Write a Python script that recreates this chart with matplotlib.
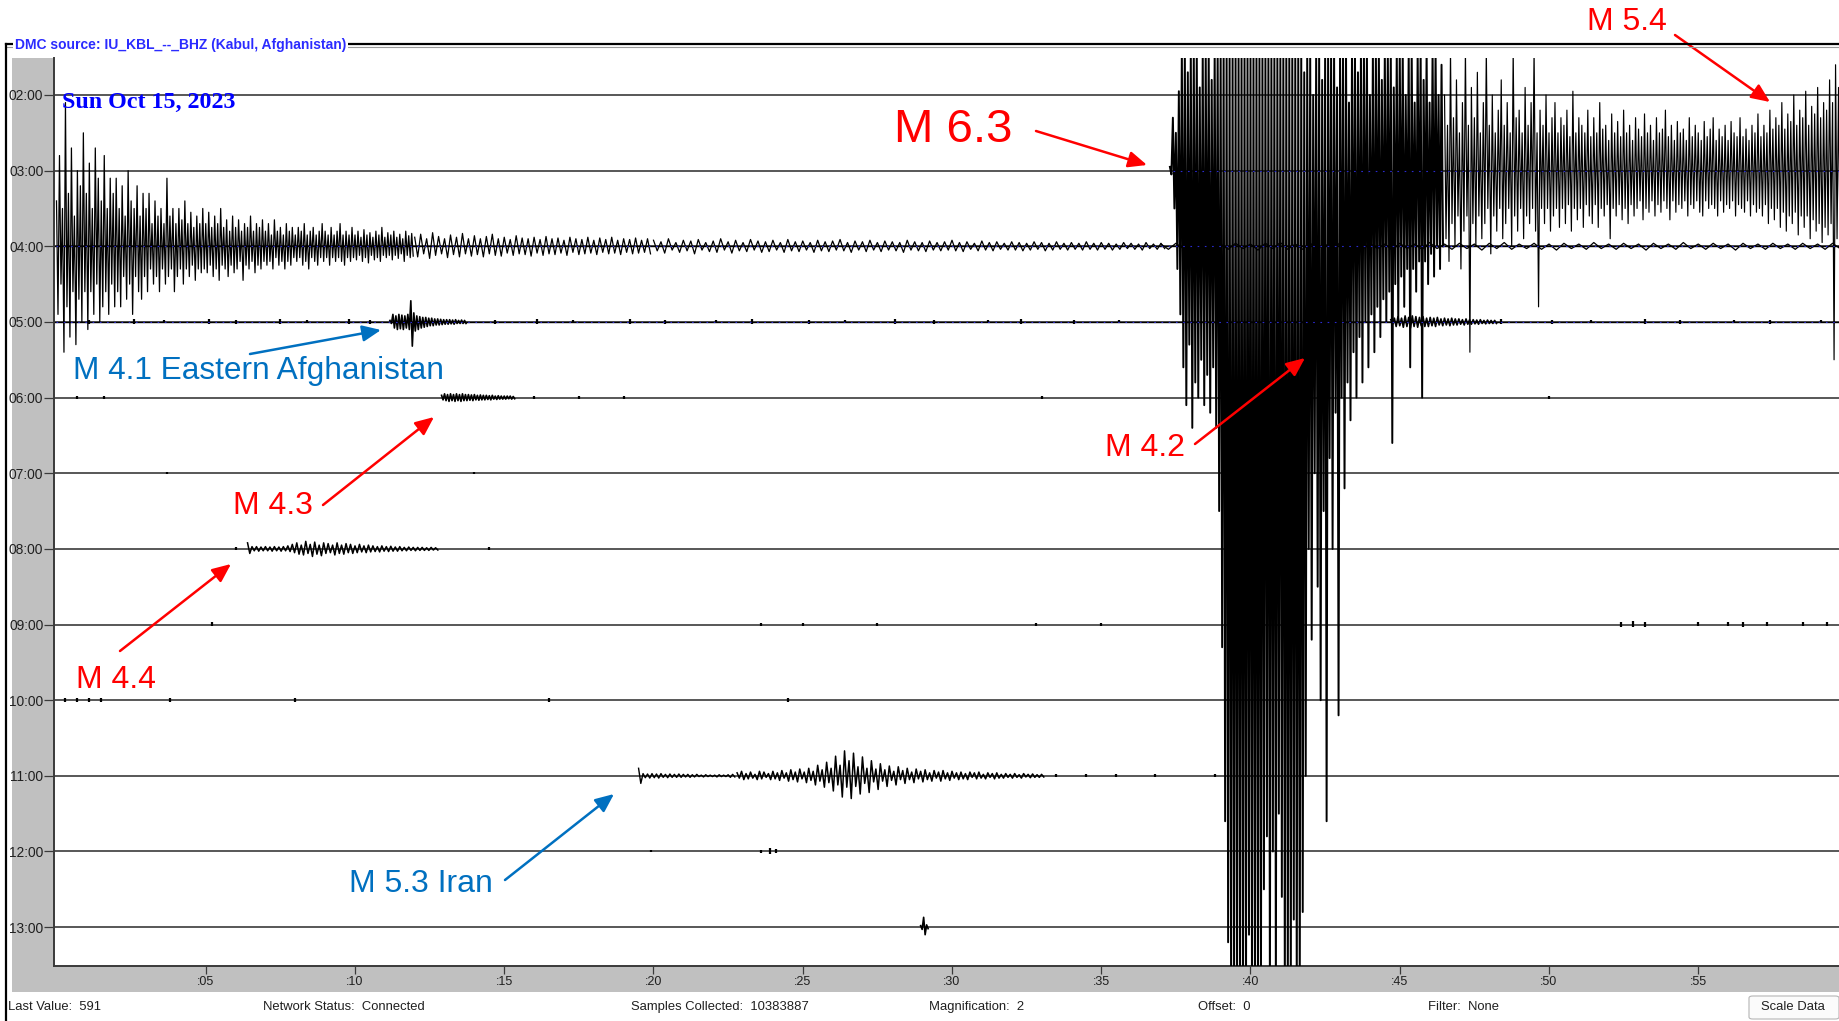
import numpy as np
import matplotlib
matplotlib.use("Agg")
import matplotlib.pyplot as plt
from matplotlib import font_manager as fm
from matplotlib.patches import Rectangle, FancyBboxPatch
from matplotlib.lines import Line2D

# ============================ DATA ============================
row_labels = ["02:00", "03:00", "04:00", "05:00", "06:00", "07:00",
              "08:00", "09:00", "10:00", "11:00", "12:00", "13:00"]
minute_ticks = [5, 10, 15, 20, 25, 30, 35, 40, 45, 50, 55]
minute_labels = [":05", ":10", ":15", ":20", ":25", ":30", ":35", ":40",
                 ":45", ":50", ":55"]

title_text = "DMC source: IU_KBL_--_BHZ (Kabul, Afghanistan)"
date_text = "Sun Oct 15, 2023"
status_texts = ["Last Value:  591", "Network Status:  Connected",
                "Samples Collected:  10383887", "Magnification:  2",
                "Offset:  0", "Filter:  None"]
button_text = "Scale Data"

# Trace envelopes (row units, up = above the row line)
# M 6.3 main shock, row 03:00, from 37.3 min every 0.1 min
mainshock_t0, mainshock_dt = 37.3, 0.1
mainshock_up = [0.05, 0.7, 0.5, 1.05, 1.6, 1.6, 1.3, 1.6, 1.6, 1.6,
                1.1, 1.6, 1.6, 1.6, 1.2, 1.6, 1.6, 1.6, 1.6, 1.6,
                1.6, 1.6, 1.6, 1.6, 1.6, 1.6, 1.6, 1.6, 1.6, 1.6,
                1.6, 1.6, 1.6, 1.6, 1.6, 1.6, 1.6, 1.6, 1.6, 1.6,
                1.6, 1.6, 1.6, 1.6, 1.6, 1.3, 1.6, 1.6, 1.0, 1.6,
                1.6, 1.2, 1.6, 1.6, 1.6, 1.6, 1.1, 1.6, 1.6, 1.6,
                0.9, 1.6, 1.6, 1.3, 1.6, 1.6, 1.6, 1.0, 1.6, 1.6,
                1.6, 1.2, 1.6, 1.6, 1.6, 1.1, 1.6, 1.6, 1.6, 1.0,
                1.6, 1.6, 0.9, 1.6, 1.6, 1.2, 1.6, 0.9, 1.6, 1.6,
                1.0, 1.4]
mainshock_dn = [0.05, 0.5, 1.3, 1.9, 2.6, 3.1, 2.3, 3.4, 2.8, 3.0,
                2.5, 3.1, 2.7, 3.2, 2.6, 3.4, 4.5, 6.3, 8.6, 10.2,
                11, 11, 11, 11, 11, 11, 10.1, 11, 11, 11,
                11, 9.5, 8.8, 11, 9.0, 11, 8.5, 9.6, 11, 11,
                11, 9.9, 11, 11, 9.8, 8.0, 5.0, 6.2, 4.0, 5.5,
                7.0, 4.5, 8.6, 3.8, 5.0, 3.2, 7.2, 3.0, 4.2, 2.8,
                3.3, 2.4, 3.0, 2.2, 2.8, 2.0, 2.6, 1.9, 2.4, 1.8,
                2.2, 1.7, 2.0, 1.6, 3.6, 1.5, 2.0, 1.4, 1.8, 1.3,
                2.6, 1.3, 1.6, 1.2, 3.0, 1.2, 1.5, 1.1, 1.4, 1.0,
                1.3, 1.0]

# main shock coda + M 5.4, row 03:00, from 46.5 min every 0.1 min
coda1_t0, coda1_dt = 46.5, 0.1
coda1_up = [1.0, 0.6, 1.6, 0.7, 1.2, 0.5, 0.9, 1.6, 0.6, 1.1,
            0.7, 1.3, 0.5, 0.9, 1.6, 0.6, 1.0, 0.5, 0.8, 1.2,
            0.6, 0.9, 0.5, 1.6, 0.7, 0.8, 0.5, 1.1, 0.6, 0.9,
            1.6, 0.5, 0.8, 0.6, 1.0, 0.5, 0.7, 0.9, 0.5, 0.7,
            0.6, 0.8, 0.45, 1.05, 0.5, 0.7, 0.6, 0.5, 0.8, 0.45,
            0.7, 0.5, 0.9, 0.55, 0.6, 0.4, 0.75, 0.5, 0.65, 0.45,
            0.8, 0.5, 0.6, 0.4, 0.7, 0.55, 0.45, 0.75, 0.5, 0.6,
            0.4, 0.7, 0.5, 0.55, 0.8, 0.45, 0.6, 0.4, 0.65, 0.5,
            0.55, 0.4, 0.7, 0.45, 0.6, 0.5, 0.4, 0.65, 0.45, 0.55,
            0.7, 0.4, 0.55, 0.45, 0.6, 0.4, 0.65, 0.5, 0.45, 0.7,
            0.45, 0.55, 0.4, 0.6, 0.5, 0.75, 0.45, 0.6, 0.5, 0.8,
            0.55, 0.7, 0.6, 0.9, 0.55, 0.75, 0.65, 1.0, 0.6, 0.8,
            0.7, 1.05, 0.6, 0.85, 0.75, 1.1, 0.7, 0.9, 0.8, 1.2,
            0.9, 1.4, 1.1]
coda1_dn = [0.9, 1.2, 0.7, 1.0, 0.6, 1.3, 0.8, 0.6, 2.4, 0.7,
            1.0, 0.6, 0.9, 0.7, 0.5, 1.1, 0.6, 0.8, 0.5, 0.9,
            0.7, 0.5, 1.0, 0.6, 0.8, 0.5, 0.9, 0.6, 0.7, 0.5,
            0.8, 1.8, 0.5, 0.7, 0.5, 0.8, 0.6, 0.5, 0.75, 0.5,
            0.7, 0.45, 0.8, 0.5, 0.65, 0.5, 0.75, 0.45, 0.6, 0.7,
            0.45, 0.75, 0.5, 0.6, 0.45, 0.9, 0.5, 0.6, 0.45, 0.65,
            0.5, 0.7, 0.45, 0.6, 0.5, 0.4, 0.65, 0.5, 0.55, 0.4,
            0.6, 0.45, 0.55, 0.4, 0.5, 0.65, 0.4, 0.55, 0.45, 0.5,
            0.4, 0.6, 0.45, 0.5, 0.4, 0.55, 0.6, 0.4, 0.5, 0.45,
            0.5, 0.6, 0.4, 0.55, 0.45, 0.5, 0.4, 0.6, 0.45, 0.5,
            0.55, 0.4, 0.6, 0.45, 0.55, 0.5, 0.6, 0.45, 0.7, 0.5,
            0.65, 0.5, 0.75, 0.55, 0.8, 0.6, 0.7, 0.55, 0.85, 0.6,
            0.75, 0.6, 0.9, 0.65, 0.8, 0.7, 0.95, 0.75, 0.85, 0.7,
            2.5, 0.9, 1.1]

# coda in row 04:00, from 0 min every 0.1 min
coda2_t0, coda2_dt = 0.0, 0.1
coda2_up = [0.6, 1.2, 0.5, 1.9, 0.7, 1.3, 0.4, 1.0, 0.8, 1.5,
            0.7, 1.1, 0.5, 1.3, 0.9, 0.6, 1.2, 0.5, 0.9, 0.7,
            0.9, 0.5, 0.8, 0.4, 1.0, 0.6, 0.5, 0.8, 0.4, 0.7,
            0.5, 0.7, 0.3, 0.6, 0.4, 0.5, 0.3, 0.9, 0.4, 0.5,
            0.3, 0.5, 0.35, 0.6, 0.3, 0.45, 0.25, 0.4, 0.3, 0.5,
            0.3, 0.45, 0.25, 0.4, 0.3, 0.5, 0.25, 0.35, 0.2, 0.4,
            0.25, 0.35, 0.2, 0.3, 0.25, 0.4, 0.2, 0.3, 0.25, 0.35,
            0.2, 0.3, 0.15, 0.35, 0.2, 0.25, 0.15, 0.3, 0.2, 0.25,
            0.15, 0.25, 0.2, 0.3, 0.15, 0.2, 0.25, 0.15, 0.2, 0.3,
            0.2, 0.15, 0.25, 0.15, 0.2, 0.3, 0.15, 0.2, 0.15, 0.25,
            0.15, 0.2, 0.12, 0.22, 0.15, 0.18, 0.12, 0.2, 0.15, 0.25,
            0.12, 0.18, 0.15, 0.2, 0.12, 0.16, 0.1, 0.2, 0.14, 0.17]
coda2_dn = [0.9, 0.5, 1.4, 0.8, 1.2, 0.6, 1.3, 0.7, 1.0, 0.6,
            1.1, 0.6, 0.9, 0.5, 1.0, 0.8, 0.6, 0.9, 0.5, 0.8,
            0.6, 0.8, 0.4, 0.7, 0.5, 0.9, 0.4, 0.6, 0.7, 0.4,
            0.6, 0.3, 0.5, 0.4, 0.6, 0.3, 0.5, 0.4, 0.3, 0.6,
            0.4, 0.3, 0.5, 0.3, 0.4, 0.25, 0.45, 0.3, 0.35, 0.3,
            0.35, 0.25, 0.4, 0.3, 0.45, 0.25, 0.3, 0.4, 0.25, 0.35,
            0.3, 0.2, 0.45, 0.25, 0.3, 0.2, 0.35, 0.25, 0.3, 0.2,
            0.25, 0.2, 0.3, 0.15, 0.25, 0.2, 0.3, 0.2, 0.25, 0.15,
            0.2, 0.15, 0.25, 0.2, 0.3, 0.15, 0.2, 0.25, 0.15, 0.2,
            0.15, 0.25, 0.15, 0.2, 0.15, 0.2, 0.25, 0.15, 0.2, 0.15,
            0.18, 0.12, 0.2, 0.15, 0.22, 0.12, 0.18, 0.15, 0.2, 0.12,
            0.15, 0.12, 0.18, 0.12, 0.16, 0.1, 0.2, 0.12, 0.15, 0.13]

# coda in row 04:00, from 12 min every 0.2 min
coda2b_t0, coda2b_dt = 12.0, 0.2
coda2b_up = [0.12, 0.16, 0.1, 0.18, 0.13, 0.1, 0.15, 0.12, 0.17, 0.1,
             0.14, 0.1, 0.13, 0.16, 0.1, 0.12, 0.09, 0.14, 0.11, 0.1,
             0.12, 0.09, 0.13, 0.1, 0.11, 0.08, 0.12, 0.1, 0.09, 0.12,
             0.08, 0.11, 0.09, 0.12, 0.08, 0.1, 0.09, 0.11, 0.08, 0.1]
coda2b_dn = [0.14, 0.1, 0.16, 0.12, 0.1, 0.15, 0.11, 0.14, 0.1, 0.13,
             0.11, 0.14, 0.1, 0.12, 0.13, 0.09, 0.12, 0.1, 0.11, 0.13,
             0.09, 0.12, 0.1, 0.11, 0.09, 0.12, 0.08, 0.11, 0.1, 0.09,
             0.11, 0.08, 0.1, 0.09, 0.11, 0.08, 0.1, 0.09, 0.08, 0.1]

# late coda in row 04:00, from 20 min every 0.25 min
coda3_t0, coda3_dt = 20.0, 0.25
coda3_up = [0.08, 0.06, 0.1, 0.05, 0.08, 0.07, 0.09, 0.05, 0.07, 0.1,
            0.06, 0.08, 0.05, 0.09, 0.07, 0.06, 0.08, 0.05, 0.09, 0.06,
            0.07, 0.05, 0.08, 0.06, 0.07, 0.09, 0.05, 0.07, 0.06, 0.08,
            0.05, 0.07, 0.06, 0.05, 0.08, 0.06, 0.05, 0.07, 0.05, 0.06,
            0.08, 0.05, 0.06, 0.04, 0.07, 0.05, 0.06, 0.04, 0.06, 0.05,
            0.04, 0.06, 0.05, 0.04, 0.06, 0.04, 0.05, 0.04, 0.06, 0.04,
            0.05, 0.04, 0.03, 0.05, 0.04, 0.03, 0.05, 0.03, 0.04]
coda3_dn = [0.06, 0.09, 0.05, 0.08, 0.06, 0.1, 0.05, 0.07, 0.08, 0.05,
            0.09, 0.06, 0.07, 0.05, 0.08, 0.07, 0.05, 0.08, 0.06, 0.07,
            0.05, 0.08, 0.06, 0.07, 0.05, 0.06, 0.08, 0.05, 0.07, 0.05,
            0.07, 0.05, 0.06, 0.08, 0.05, 0.06, 0.07, 0.05, 0.06, 0.05,
            0.06, 0.07, 0.04, 0.06, 0.05, 0.06, 0.04, 0.05, 0.05, 0.06,
            0.05, 0.04, 0.06, 0.05, 0.04, 0.05, 0.04, 0.05, 0.04, 0.05,
            0.04, 0.05, 0.04, 0.03, 0.04, 0.05, 0.03, 0.04, 0.03]

# background noise in row 04:00 after 37 min, every 0.5 min
coda4_t0, coda4_dt = 37.0, 0.5
coda4_up = [0.03, 0.04, 0.03, 0.05, 0.03, 0.04, 0.03, 0.04, 0.05, 0.03,
            0.04, 0.03, 0.05, 0.03, 0.04, 0.03, 0.04, 0.03, 0.05, 0.03,
            0.04, 0.03, 0.04, 0.05, 0.03, 0.04, 0.03, 0.04, 0.03, 0.05,
            0.03, 0.04, 0.03, 0.04, 0.03, 0.05, 0.03, 0.04, 0.03, 0.04,
            0.03, 0.04, 0.03, 0.04, 0.03, 0.04]
coda4_dn = [0.04, 0.03, 0.05, 0.03, 0.04, 0.03, 0.05, 0.03, 0.04, 0.04,
            0.03, 0.05, 0.03, 0.04, 0.03, 0.05, 0.03, 0.04, 0.03, 0.04,
            0.03, 0.05, 0.03, 0.04, 0.03, 0.04, 0.05, 0.03, 0.04, 0.03,
            0.04, 0.03, 0.05, 0.03, 0.04, 0.03, 0.04, 0.03, 0.05, 0.03,
            0.04, 0.03, 0.04, 0.03, 0.04, 0.03]

# M 4.1 Eastern Afghanistan, row 05:00
m41_t0, m41_dt = 11.17, 0.1
m41_up = [0.02, 0.1, 0.08, 0.1, 0.09, 0.08, 0.1, 0.28, 0.12, 0.08,
          0.07, 0.06, 0.06, 0.05, 0.05, 0.04, 0.04, 0.035, 0.03, 0.03,
          0.03, 0.025, 0.03, 0.02, 0.025, 0.02]
m41_dn = [0.02, 0.08, 0.1, 0.09, 0.1, 0.08, 0.1, 0.32, 0.12, 0.1,
          0.08, 0.07, 0.06, 0.05, 0.05, 0.04, 0.04, 0.035, 0.03, 0.03,
          0.025, 0.03, 0.02, 0.02, 0.02, 0.02]

# M 4.2, row 05:00
m42_t0, m42_dt = 44.7, 0.12
m42_up = [0.03, 0.05, 0.07, 0.05, 0.08, 0.06, 0.08, 0.07, 0.06, 0.07,
          0.05, 0.06, 0.05, 0.06, 0.04, 0.05, 0.04, 0.05, 0.04, 0.04,
          0.03, 0.04, 0.03, 0.03, 0.025, 0.03, 0.02, 0.025, 0.02, 0.02]
m42_dn = [0.03, 0.06, 0.05, 0.07, 0.06, 0.08, 0.06, 0.07, 0.05, 0.06,
          0.06, 0.05, 0.06, 0.04, 0.05, 0.04, 0.05, 0.04, 0.04, 0.03,
          0.04, 0.03, 0.03, 0.025, 0.03, 0.02, 0.025, 0.02, 0.02, 0.02]

# M 4.3, row 06:00
m43_t0, m43_dt = 12.9, 0.1
m43_up = [0.03, 0.05, 0.04, 0.05, 0.04, 0.05, 0.04, 0.05, 0.04, 0.04,
          0.035, 0.04, 0.03, 0.035, 0.03, 0.03, 0.025, 0.03, 0.02, 0.025,
          0.02, 0.02, 0.02, 0.02, 0.015]
m43_dn = [0.03, 0.04, 0.05, 0.04, 0.05, 0.04, 0.05, 0.04, 0.04, 0.035,
          0.04, 0.03, 0.035, 0.03, 0.03, 0.025, 0.03, 0.02, 0.025, 0.02,
          0.02, 0.02, 0.015, 0.02, 0.015]

# M 4.4, row 08:00
m44_t0, m44_dt = 6.4, 0.15
m44_up = [0.08, 0.03, 0.03, 0.025, 0.03, 0.025, 0.03, 0.025, 0.03, 0.04,
          0.06, 0.08, 0.05, 0.1, 0.06, 0.09, 0.05, 0.08, 0.07, 0.05,
          0.08, 0.05, 0.07, 0.06, 0.04, 0.06, 0.04, 0.05, 0.04, 0.03,
          0.04, 0.03, 0.035, 0.025, 0.03, 0.02, 0.025, 0.02, 0.02, 0.02,
          0.015, 0.02, 0.015]
m44_dn = [0.06, 0.025, 0.03, 0.025, 0.025, 0.03, 0.025, 0.03, 0.025, 0.035,
          0.05, 0.07, 0.08, 0.06, 0.1, 0.07, 0.09, 0.06, 0.05, 0.08,
          0.06, 0.07, 0.05, 0.06, 0.05, 0.04, 0.05, 0.04, 0.035, 0.04,
          0.03, 0.035, 0.03, 0.03, 0.025, 0.025, 0.02, 0.025, 0.02, 0.02,
          0.02, 0.015, 0.015]

# M 5.3 Iran, row 11:00 (P onset, then surface waves)
m53a_t0, m53a_dt = 19.5, 0.15
m53a_up = [0.1, 0.03, 0.025, 0.03, 0.025, 0.03, 0.02, 0.025, 0.02, 0.025,
           0.02, 0.02, 0.015, 0.02, 0.01, 0.015, 0.01, 0.01, 0.015, 0.01,
           0.015, 0.02]
m53a_dn = [0.1, 0.025, 0.03, 0.025, 0.03, 0.02, 0.025, 0.02, 0.02, 0.02,
           0.015, 0.02, 0.015, 0.01, 0.015, 0.01, 0.01, 0.015, 0.01, 0.01,
           0.02, 0.015]
m53b_t0, m53b_dt = 22.8, 0.15
m53b_up = [0.04, 0.06, 0.03, 0.05, 0.02, 0.06, 0.05, 0.03, 0.06, 0.04,
           0.07, 0.04, 0.08, 0.05, 0.09, 0.05, 0.1, 0.06, 0.14, 0.08,
           0.18, 0.1, 0.26, 0.14, 0.33, 0.2, 0.3, 0.12, 0.25, 0.1,
           0.2, 0.09, 0.16, 0.08, 0.13, 0.06, 0.12, 0.07, 0.1, 0.05,
           0.09, 0.06, 0.08, 0.04, 0.07, 0.05, 0.07, 0.04, 0.06, 0.04,
           0.05, 0.03, 0.05, 0.04, 0.05, 0.02, 0.04, 0.03, 0.04, 0.02,
           0.03, 0.02, 0.03, 0.015, 0.03, 0.02, 0.025, 0.015, 0.02]
m53b_dn = [0.03, 0.05, 0.04, 0.03, 0.05, 0.04, 0.02, 0.05, 0.04, 0.06,
           0.03, 0.07, 0.05, 0.08, 0.04, 0.09, 0.06, 0.12, 0.07, 0.15,
           0.09, 0.2, 0.12, 0.28, 0.15, 0.3, 0.14, 0.24, 0.1, 0.22,
           0.08, 0.18, 0.07, 0.14, 0.06, 0.12, 0.05, 0.1, 0.05, 0.09,
           0.04, 0.08, 0.05, 0.07, 0.03, 0.07, 0.04, 0.06, 0.03, 0.05,
           0.04, 0.05, 0.02, 0.04, 0.03, 0.04, 0.02, 0.04, 0.03, 0.03,
           0.02, 0.03, 0.02, 0.03, 0.015, 0.025, 0.02, 0.02, 0.015]

# single spike, row 13:00
spike13_t0, spike13_dt = 28.95, 0.1
spike13_up = [0.02, 0.13, 0.03]
spike13_dn = [0.03, 0.1, 0.02]

# small isolated blips: row index, minute, amplitude
blip_row = [3]*32 + [4]*7 + [5]*2 + [6]*2 + [7]*15 + [8]*8 + [9]*5 + [10]*4
blip_t = [1.1, 2.6, 3.6, 5.1, 6.0, 7.5, 8.4, 9.8, 10.5, 14.7, 16.1, 17.3,
          19.2, 20.4, 22.1, 23.3, 25.2, 26.4, 28.1, 29.4, 31.2, 32.3, 34.1,
          35.6, 48.4, 50.1, 51.4, 53.2, 54.4, 56.2, 57.4, 59.1,
          0.7, 1.6, 16.0, 17.5, 19.0, 33.0, 50.0,
          3.7, 14.0,
          6.0, 14.5,
          5.2, 23.6, 25.0, 27.5, 32.8, 35.0, 52.4, 52.8, 53.2, 55.0, 56.0,
          56.5, 57.3, 58.5, 59.3,
          0.3, 0.7, 1.1, 1.5, 3.8, 8.0, 16.5, 24.5,
          33.5, 34.5, 35.5, 36.8, 38.8,
          19.9, 23.6, 23.9, 24.1]
blip_amp = [0.03, 0.04, 0.025, 0.035, 0.03, 0.04, 0.025, 0.035, 0.03, 0.03,
            0.035, 0.025, 0.04, 0.03, 0.025, 0.035, 0.03, 0.025, 0.035, 0.03,
            0.025, 0.035, 0.03, 0.025, 0.035, 0.03, 0.025, 0.035, 0.03, 0.025,
            0.03, 0.025] + [0.025]*7 + [0.02]*2 + [0.02]*2 + \
           [0.03, 0.02, 0.02, 0.02, 0.02, 0.02, 0.04, 0.045, 0.04, 0.03,
            0.03, 0.04, 0.03, 0.03, 0.03] + [0.03]*8 + [0.02]*5 + \
           [0.015, 0.025, 0.04, 0.03]

# rows whose zero line carries the blue baseline marks (row, start minute)
baseline_rows = [1, 2, 3]
baseline_start = [37.4, 0.0, 0.0]

# annotations
ann_labels = ["M 6.3", "M 5.4", "M 4.1 Eastern Afghanistan", "M 4.3",
              "M 4.4", "M 4.2", "M 5.3 Iran"]
ann_colors = ["#ff0000", "#ff0000", "#0070c0", "#ff0000", "#ff0000",
              "#ff0000", "#0070c0"]

# ============================ LAYOUT ============================
W, H = 1840, 1021
def fx(px): return px / W
def fy(py): return 1 - py / H

avail = {f.name for f in fm.fontManager.ttflist}
NARROW = "Liberation Sans Narrow" in avail
sans = "Liberation Sans"
narrow_fam = ["Liberation Sans Narrow", sans] if NARROW else [sans]

fig = plt.figure(figsize=(W / 100, H / 100), dpi=100)
fig.patch.set_facecolor("white")

ax_l, ax_r, ax_t, ax_b = 54, 1840, 58, 966
ax = fig.add_axes([fx(ax_l), fy(ax_b), (ax_r - ax_l) / W, (ax_b - ax_t) / H])
x0_px, px_per_min = 56.5, 29.85
r0_px, px_per_row = 95.0, 75.65
ax.set_xlim((ax_l - x0_px) / px_per_min, (ax_r - x0_px) / px_per_min)
ax.set_ylim((ax_b - r0_px) / px_per_row, (ax_t - r0_px) / px_per_row)

# gray frames of the helicorder window
fig.add_artist(Rectangle((fx(12), fy(ax_b)), (ax_l - 12) / W, (ax_b - ax_t) / H,
                         transform=fig.transFigure, facecolor="#c0c0c0",
                         edgecolor="none", zorder=-2))
fig.add_artist(Rectangle((fx(12), fy(992)), (W - 12) / W, (992 - ax_b) / H,
                         transform=fig.transFigure, facecolor="#c0c0c0",
                         edgecolor="none", zorder=-2))

# group-box frame
fig.add_artist(Line2D([fx(6), fx(W)], [fy(44), fy(44)], color="black",
                      lw=1.6, transform=fig.transFigure, zorder=1))
fig.add_artist(Line2D([fx(6), fx(W)], [fy(47), fy(47)], color="#9a9a9a",
                      lw=0.8, transform=fig.transFigure, zorder=1))
fig.add_artist(Line2D([fx(6), fx(6)], [fy(44), fy(H)], color="black",
                      lw=1.6, transform=fig.transFigure, zorder=1))

# row lines
rows = np.arange(len(row_labels))
xmin, xmax = ax.get_xlim()
ax.hlines(rows, xmin, xmax, color="#4a4a4a", lw=1.3, zorder=1)
# quiet trace on the active rows
ax.hlines([2, 3], xmin, xmax, color="black", lw=1.0, zorder=2)

def zigzag(row, t0, dt, up, dn, lw=0.8):
    n = min(len(up), len(dn))
    t = t0 + dt * np.arange(n)
    xs = np.empty(2 * n)
    ys = np.empty(2 * n)
    xs[0::2] = t
    xs[1::2] = t + dt / 2
    ys[0::2] = row - np.asarray(up[:n], float)
    ys[1::2] = row + np.asarray(dn[:n], float)
    ax.plot(xs, ys, color="black", lw=lw, zorder=3, solid_joinstyle="round")

zigzag(1, mainshock_t0, mainshock_dt, mainshock_up, mainshock_dn, lw=1.4)
zigzag(1, coda1_t0, coda1_dt, coda1_up, coda1_dn, lw=0.85)
zigzag(2, coda2_t0, coda2_dt, coda2_up, coda2_dn, lw=0.9)
zigzag(2, coda2b_t0, coda2b_dt, coda2b_up, coda2b_dn, lw=0.9)
zigzag(2, coda3_t0, coda3_dt, coda3_up, coda3_dn, lw=0.9)
zigzag(2, coda4_t0, coda4_dt, coda4_up, coda4_dn, lw=0.9)
zigzag(3, m41_t0, m41_dt, m41_up, m41_dn, lw=1.2)
zigzag(3, m42_t0, m42_dt, m42_up, m42_dn, lw=1.2)
zigzag(4, m43_t0, m43_dt, m43_up, m43_dn, lw=1.2)
zigzag(6, m44_t0, m44_dt, m44_up, m44_dn, lw=1.1)
zigzag(9, m53a_t0, m53a_dt, m53a_up, m53a_dn, lw=1.0)
zigzag(9, m53b_t0, m53b_dt, m53b_up, m53b_dn, lw=1.1)
zigzag(11, spike13_t0, spike13_dt, spike13_up, spike13_dn, lw=1.2)

br = np.asarray(blip_row, float)
ba = np.asarray(blip_amp, float)
ax.vlines(blip_t, br - ba, br + ba * 0.7, color="black", lw=1.6, zorder=3)

for rr, s in zip(baseline_rows, baseline_start):
    ax.plot([s, xmax], [rr, rr], color="#2a2ad0", lw=0.8, zorder=4,
            dashes=(1.5, 5))

# axes styling
for side in ("top", "right"):
    ax.spines[side].set_visible(False)
for side in ("left", "bottom"):
    ax.spines[side].set_color("#3a3a3a")
    ax.spines[side].set_linewidth(1.4)
ax.set_yticks(rows)
ax.set_yticklabels(row_labels)
ax.set_xticks(minute_ticks)
ax.set_xticklabels(minute_labels)
ysize = 12.3 if NARROW else 9.9
xsize = 10.5 if NARROW else 9.0
ax.tick_params(axis="y", length=7.2, width=0.9, color="#3a3a3a", pad=0.5,
               labelsize=ysize, labelcolor="#202020")
ax.tick_params(axis="x", length=5.5, width=0.9, color="#3a3a3a", pad=2,
               labelsize=xsize, labelcolor="#202020")
for lab in ax.get_yticklabels() + ax.get_xticklabels():
    lab.set_family(narrow_fam)

# title and date
tsize = 12.0 if NARROW else 10.0
fig.text(fx(15), fy(45), title_text, family=narrow_fam, fontsize=tsize,
         fontweight="bold", color="#2b2bff", va="center", ha="left", zorder=5,
         bbox=dict(facecolor="white", edgecolor="none", pad=1.5))
fig.text(fx(62), fy(108), date_text, family="Liberation Serif", fontsize=17.3,
         fontweight="bold", color="#0000ff", va="baseline", ha="left", zorder=5)

# status bar
status_x = [8, 263, 631, 929, 1198, 1428]
for txt, xp in zip(status_texts, status_x):
    fig.text(fx(xp), fy(1007), txt, family=sans, fontsize=9.4,
             color="#202020", va="center", ha="left")
fig.add_artist(FancyBboxPatch((fx(1749), fy(1019)), 90 / W, 23 / H,
                              boxstyle="round,pad=0,rounding_size=0.002",
                              transform=fig.transFigure, facecolor="#fbfbfb",
                              edgecolor="#b5b5b5", lw=0.8))
fig.text(fx(1793), fy(1007), button_text, family=sans, fontsize=9.4,
         color="#202020", va="center", ha="center")

# annotations (text centre / arrow tail / arrow head in data units)
def m(px): return (px - x0_px) / px_per_min
def r(py): return (py - r0_px) / px_per_row

ann_text_xy = [(m(953), r(125)), (m(1627), r(19)), (m(73), r(368)),
               (m(273), r(502)), (m(116), r(677)), (m(1145), r(444)),
               (m(421), r(880))]
ann_ha = ["center", "center", "left", "center", "center", "center", "center"]
ann_size = [34, 23, 22.8, 23, 23, 23, 23]
ann_tail = [(m(1036), r(131)), (m(1675), r(35)), (m(250), r(354)),
            (m(323), r(505)), (m(120), r(651)), (m(1195), r(444)),
            (m(505), r(880))]
ann_head = [(m(1147), r(165)), (m(1770), r(102)), (m(381), r(330)),
            (m(434), r(417)), (m(231), r(564)), (m(1305), r(358)),
            (m(614), r(794))]

for lab, col, txy, ha, sz, tail, head in zip(ann_labels, ann_colors,
                                             ann_text_xy, ann_ha, ann_size,
                                             ann_tail, ann_head):
    ax.text(txy[0], txy[1], lab, color=col, fontsize=sz, family=sans,
            ha=ha, va="center_baseline", zorder=6, clip_on=False)
    ax.annotate("", xy=head, xytext=tail, annotation_clip=False,
                arrowprops=dict(arrowstyle="-|>,head_length=0.8,head_width=0.35",
                                mutation_scale=14, color=col, lw=1.8,
                                shrinkA=0, shrinkB=0), zorder=6)

fig.savefig("out.png", dpi=100)
